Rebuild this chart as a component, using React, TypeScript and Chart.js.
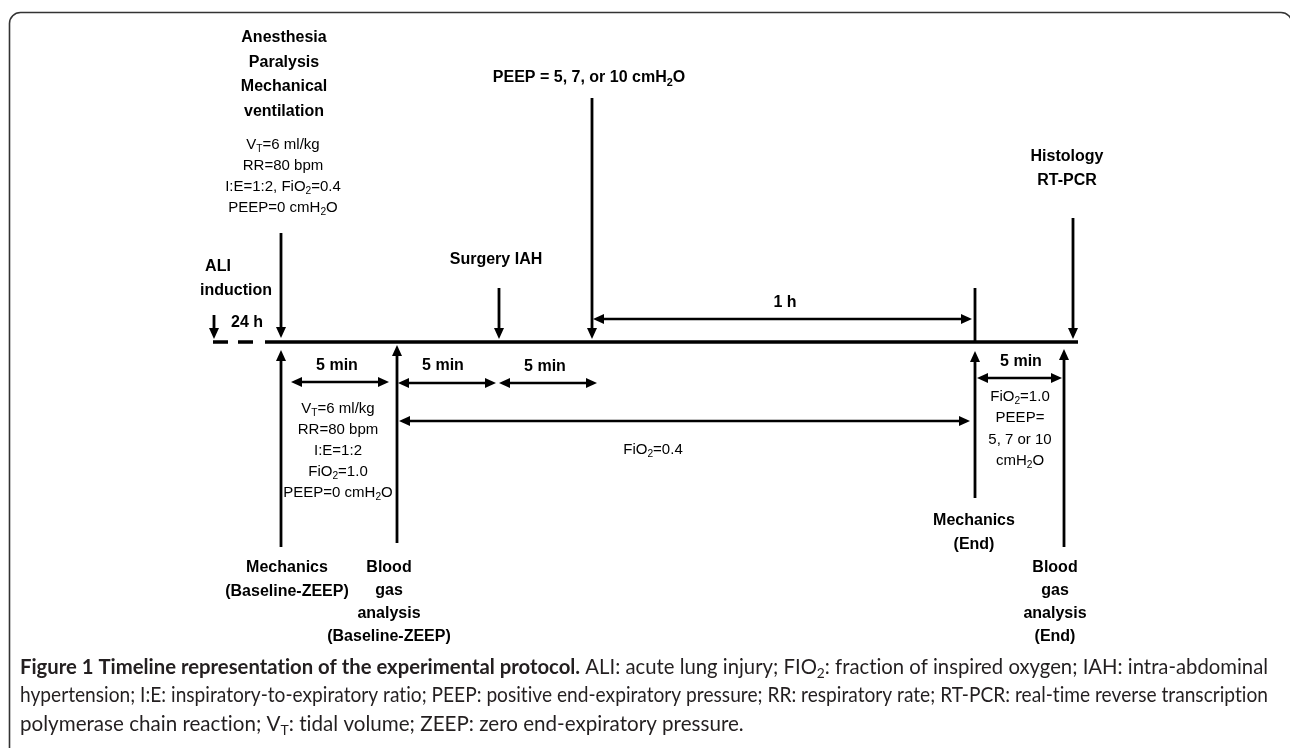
import React, { useEffect, useRef } from "react";
import { Chart, registerables } from "chart.js";

Chart.register(...registerables);

const W = 1290;
const H = 748;

// ---- Timeline (diagram units) ----
const TIMELINE_Y = 342;
const TIMELINE_DASHED_X = [213, 253];
const TIMELINE_SOLID_X = [265, 1078];

// Events above the timeline (down arrows)
const DOWN_ARROW_NAMES = ["ALI induction", "Anesthesia", "Surgery IAH", "PEEP", "Histology"];
const DOWN_ARROW_X = [214, 281, 499, 592, 1073];
const DOWN_ARROW_TOP = [315, 233, 288, 98, 218];
const DOWN_ARROW_TIP = [339, 338, 339, 339, 339];

// Plain marker (end of 1 h)
const MARKER_X = [975];
const MARKER_TOP = [288];

// Measurements below the timeline (up arrows)
const UP_ARROW_NAMES = ["Mechanics baseline", "Blood gas baseline", "Mechanics end", "Blood gas end"];
const UP_ARROW_X = [281, 397, 975, 1064];
const UP_ARROW_BOTTOM = [547, 543, 498, 547];
const UP_ARROW_TIP = [350, 345, 351, 349];

// Durations (double-headed arrows)
const SPAN_NAMES = ["5 min", "5 min", "5 min", "5 min", "1 h", "FiO2=0.4"];
const SPAN_START = [291, 398, 499, 977, 593, 399];
const SPAN_END = [389, 496, 597, 1062, 972, 970];
const SPAN_Y = [382, 383, 383, 378, 319, 421];

// ---- Labels ----
const LABEL_LINES = [
  ["Anesthesia", "Paralysis", "Mechanical", "ventilation"],
  ["V_T=6 ml/kg", "RR=80 bpm", "I:E=1:2, FiO_2=0.4", "PEEP=0 cmH_2O"],
  ["ALI"],
  ["induction"],
  ["24 h"],
  ["Surgery IAH"],
  ["PEEP = 5, 7, or 10 cmH_2O"],
  ["Histology", "RT-PCR"],
  ["1 h"],
  ["5 min"],
  ["5 min"],
  ["5 min"],
  ["5 min"],
  ["V_T=6 ml/kg", "RR=80 bpm", "I:E=1:2", "FiO_2=1.0", "PEEP=0 cmH_2O"],
  ["FiO_2=0.4"],
  ["FiO_2=1.0", "PEEP=", "5, 7 or 10", "cmH_2O"],
  ["Mechanics", "(Baseline-ZEEP)"],
  ["Blood", "gas", "analysis", "(Baseline-ZEEP)"],
  ["Mechanics", "(End)"],
  ["Blood", "gas", "analysis", "(End)"],
];
const LABEL_X = [284, 283, 218, 236, 247, 496, 589, 1067, 785, 337, 443, 545, 1021, 338, 653, 1020, 287, 389, 974, 1055];
const LABEL_Y = [38, 145, 267, 291, 323, 260, 78, 157, 303, 366, 366, 367, 362, 409, 450, 397, 568, 568, 521, 568];
const LABEL_BOLD = [true, false, true, true, true, true, true, true, true, true, true, true, true, false, false, false, true, true, true, true];
const LABEL_GAP = [24.5, 21, 0, 0, 0, 0, 0, 23.5, 0, 0, 0, 0, 0, 21, 0, 21.3, 23.5, 23, 23.5, 23];

// ---- Caption ----
const CAPTION_LINES = [
  "**Figure 1 Timeline representation of the experimental protocol.** ALI: acute lung injury; FIO_2: fraction of inspired oxygen; IAH: intra-abdominal",
  "hypertension; I:E: inspiratory-to-expiratory ratio; PEEP: positive end-expiratory pressure; RR: respiratory rate; RT-PCR: real-time reverse transcription",
  "polymerase chain reaction; V_T: tidal volume; ZEEP: zero end-expiratory pressure.",
];
const CAPTION_X = 20;
const CAPTION_Y = [667, 695.5, 724];
const CAPTION_JUSTIFY = [true, true, false];
const CAPTION_RIGHT = 1268;
const CAPTION_LAST_RIGHT = 744;

// ---- Styles ----
const INK = "#000000";
const CAPTION_INK = "#231f20";
const FRAME_INK = "#333333";
const FONT = '"Liberation Sans", Arial, Helvetica, sans-serif';
const CAPTION_FONT = 'Lato, "Open Sans", sans-serif';
const BOLD_SIZE = 16;
const REG_SIZE = 15;
const HEAD_LEN = 11;
const HEAD_HALF = 5;
const ARROW_W = 2.8;
const SPAN_W = 2.6;
const TIMELINE_W = 3.4;
const ZWNJ = "\u200C";

type Run = { t: string; b: boolean; sub: boolean; space?: boolean };

function parseRuns(s: string, boldDefault: boolean): Run[] {
  const runs: Run[] = [];
  let bold = boldDefault;
  let buf = "";
  const push = () => {
    if (buf) {
      runs.push({ t: buf, b: bold, sub: false });
      buf = "";
    }
  };
  for (let i = 0; i < s.length; i++) {
    if (s.startsWith("**", i)) {
      push();
      bold = !bold;
      i++;
      continue;
    }
    if (s[i] === "_" && i + 1 < s.length) {
      push();
      runs.push({ t: s[i + 1], b: bold, sub: true });
      i++;
      continue;
    }
    buf += s[i];
  }
  push();
  return runs;
}

function tokenize(runs: Run[], noLig: boolean): Run[] {
  const out: Run[] = [];
  for (const r of runs) {
    for (const part of r.t.split(/( )/)) {
      if (part === "") continue;
      const t = noLig ? part.replace(/([tf])(?=[a-z])/g, "$1" + ZWNJ) : part;
      out.push({ ...r, t, space: part === " " });
    }
  }
  return out;
}

function fontFor(t: Run, size: number, family: string) {
  const s = t.sub ? size * 0.68 : size;
  return `${t.b ? "bold " : ""}${s}px ${family}`;
}

function measureRich(ctx: CanvasRenderingContext2D, line: string, size: number, family: string, bold: boolean, noLig = false) {
  const toks = tokenize(parseRuns(line, bold), noLig);
  let w = 0;
  toks.forEach((t) => {
    ctx.font = fontFor(t, size, family);
    w += ctx.measureText(t.t).width;
  });
  return w;
}

function drawRich(
  ctx: CanvasRenderingContext2D,
  line: string,
  x: number,
  y: number,
  size: number,
  family: string,
  bold: boolean,
  align: "center" | "left",
  justifyWidth?: number,
  noLig = false
) {
  const toks = tokenize(parseRuns(line, bold), noLig);
  const widths = toks.map((t) => {
    ctx.font = fontFor(t, size, family);
    return ctx.measureText(t.t).width;
  });
  const natural = widths.reduce((a, b) => a + b, 0);
  let extra = 0;
  let scaleX = 1;
  if (justifyWidth) {
    const nsp = toks.filter((t) => t.space).length;
    if (natural < justifyWidth && nsp > 0) extra = (justifyWidth - natural) / nsp;
    else if (natural > justifyWidth) scaleX = justifyWidth / natural;
  }
  const start = align === "center" ? x - natural / 2 : x;
  ctx.save();
  ctx.translate(start, y);
  ctx.scale(scaleX, 1);
  ctx.textBaseline = "middle";
  ctx.textAlign = "left";
  let cx = 0;
  toks.forEach((t, i) => {
    ctx.font = fontFor(t, size, family);
    ctx.fillText(t.t, cx, t.sub ? size * 0.3 : 0);
    cx += widths[i] + (t.space ? extra : 0);
  });
  ctx.restore();
}

function arrow(x1: number, y1: number, x2: number, y2: number, headStart: boolean, headEnd: boolean, label: string, width = ARROW_W) {
  const dx = x2 - x1;
  const dy = y2 - y1;
  const L = Math.hypot(dx, dy) || 1;
  const ux = dx / L;
  const uy = dy / L;
  const s = headStart ? HEAD_LEN * 0.7 : 0;
  const e = headEnd ? HEAD_LEN * 0.7 : 0;
  const tips: { x: number; y: number; bx: number; by: number }[] = [];
  if (headStart) tips.push({ x: x1, y: y1, bx: x1 + ux, by: y1 + uy });
  if (headEnd) tips.push({ x: x2, y: y2, bx: x2 - ux, by: y2 - uy });
  return {
    label,
    data: [
      { x: x1 + ux * s, y: y1 + uy * s },
      { x: x2 - ux * e, y: y2 - uy * e },
    ],
    arrowTips: tips,
    showLine: true,
    borderColor: INK,
    backgroundColor: INK,
    borderWidth: width,
    borderCapStyle: "butt",
    pointRadius: 0,
    pointHoverRadius: 0,
    fill: false,
  };
}

const diagramPlugin = {
  id: "diagram",
  beforeDraw(chart: any) {
    const ctx: CanvasRenderingContext2D = chart.ctx;
    ctx.save();
    ctx.fillStyle = "#ffffff";
    ctx.fillRect(0, 0, chart.width, chart.height);
    // rounded figure frame
    const x0 = 9.5, y0 = 12.5, x1 = 1292, y1 = 790, r = 11;
    ctx.strokeStyle = FRAME_INK;
    ctx.lineWidth = 1.6;
    ctx.beginPath();
    ctx.moveTo(x0 + r, y0);
    ctx.lineTo(x1 - r, y0);
    ctx.arcTo(x1, y0, x1, y0 + r, r);
    ctx.lineTo(x1, y1);
    ctx.lineTo(x0, y1);
    ctx.lineTo(x0, y0 + r);
    ctx.arcTo(x0, y0, x0 + r, y0, r);
    ctx.stroke();
    ctx.restore();
  },
  afterDatasetsDraw(chart: any) {
    const ctx: CanvasRenderingContext2D = chart.ctx;
    const xs = chart.scales.x;
    const ys = chart.scales.y;
    ctx.save();
    // arrowheads
    ctx.fillStyle = INK;
    chart.data.datasets.forEach((ds: any) => {
      (ds.arrowTips || []).forEach((tip: any) => {
        const px = xs.getPixelForValue(tip.x);
        const py = ys.getPixelForValue(tip.y);
        const bx = xs.getPixelForValue(tip.bx);
        const by = ys.getPixelForValue(tip.by);
        let ux = px - bx;
        let uy = py - by;
        const L = Math.hypot(ux, uy) || 1;
        ux /= L;
        uy /= L;
        const nx = -uy;
        const ny = ux;
        const cx = px - ux * HEAD_LEN;
        const cy = py - uy * HEAD_LEN;
        ctx.beginPath();
        ctx.moveTo(px, py);
        ctx.lineTo(cx + nx * HEAD_HALF, cy + ny * HEAD_HALF);
        ctx.lineTo(cx - nx * HEAD_HALF, cy - ny * HEAD_HALF);
        ctx.closePath();
        ctx.fill();
      });
    });
    // diagram labels
    ctx.fillStyle = INK;
    LABEL_LINES.forEach((lines, i) => {
      const bold = LABEL_BOLD[i];
      const size = bold ? BOLD_SIZE : REG_SIZE;
      lines.forEach((ln, j) => {
        const px = xs.getPixelForValue(LABEL_X[i]);
        const py = ys.getPixelForValue(LABEL_Y[i] + j * LABEL_GAP[i]);
        drawRich(ctx, ln, px, py, size, FONT, bold, "center");
      });
    });
    // caption: size chosen so the short last line reaches its measured end
    ctx.fillStyle = CAPTION_INK;
    const left = xs.getPixelForValue(CAPTION_X);
    const lastW = measureRich(ctx, CAPTION_LINES[2], 16, CAPTION_FONT, false, true);
    const capSize = 16 * ((xs.getPixelForValue(CAPTION_LAST_RIGHT) - left) / lastW);
    CAPTION_LINES.forEach((ln, i) => {
      const py = ys.getPixelForValue(CAPTION_Y[i]);
      const jw = CAPTION_JUSTIFY[i] ? xs.getPixelForValue(CAPTION_RIGHT) - left : undefined;
      drawRich(ctx, ln, left, py, capSize, CAPTION_FONT, false, "left", jw, true);
    });
    ctx.restore();
  },
};

function buildDatasets() {
  const ds: any[] = [];
  ds.push({
    label: "24 h (dashed)",
    data: [
      { x: TIMELINE_DASHED_X[0], y: TIMELINE_Y },
      { x: TIMELINE_DASHED_X[1], y: TIMELINE_Y },
    ],
    showLine: true,
    borderColor: INK,
    borderWidth: TIMELINE_W,
    borderDash: [15, 10],
    borderCapStyle: "butt",
    pointRadius: 0,
  });
  ds.push({
    label: "timeline",
    data: [
      { x: TIMELINE_SOLID_X[0], y: TIMELINE_Y },
      { x: TIMELINE_SOLID_X[1], y: TIMELINE_Y },
    ],
    showLine: true,
    borderColor: INK,
    borderWidth: TIMELINE_W,
    borderCapStyle: "butt",
    pointRadius: 0,
  });
  DOWN_ARROW_X.forEach((x, i) => {
    ds.push(arrow(x, DOWN_ARROW_TOP[i], x, DOWN_ARROW_TIP[i], false, true, DOWN_ARROW_NAMES[i]));
  });
  MARKER_X.forEach((x, i) => {
    ds.push(arrow(x, MARKER_TOP[i], x, TIMELINE_Y, false, false, "1 h end"));
  });
  UP_ARROW_X.forEach((x, i) => {
    ds.push(arrow(x, UP_ARROW_BOTTOM[i], x, UP_ARROW_TIP[i], false, true, UP_ARROW_NAMES[i]));
  });
  SPAN_START.forEach((x, i) => {
    ds.push(arrow(x, SPAN_Y[i], SPAN_END[i], SPAN_Y[i], true, true, SPAN_NAMES[i], SPAN_W));
  });
  return ds;
}

export default function App() {
  const ref = useRef<HTMLCanvasElement | null>(null);
  useEffect(() => {
    document.body.style.margin = "0";
    const canvas = ref.current;
    if (!canvas) return;
    const chart = new Chart(canvas, {
      type: "scatter",
      data: { datasets: buildDatasets() },
      options: {
        responsive: false,
        animation: false,
        devicePixelRatio: 1,
        layout: { padding: 0, autoPadding: false } as any,
        events: [],
        plugins: {
          legend: { display: false },
          tooltip: { enabled: false },
        },
        scales: {
          x: { type: "linear", min: 0, max: W, display: false },
          y: { type: "linear", min: 0, max: H, reverse: true, display: false },
        },
      },
      plugins: [diagramPlugin],
    });
    return () => chart.destroy();
  }, []);
  return (
    <div style={{ width: W, height: H, overflow: "hidden", background: "#fff" }}>
      <canvas ref={ref} width={W} height={H} style={{ display: "block" }} />
    </div>
  );
}
